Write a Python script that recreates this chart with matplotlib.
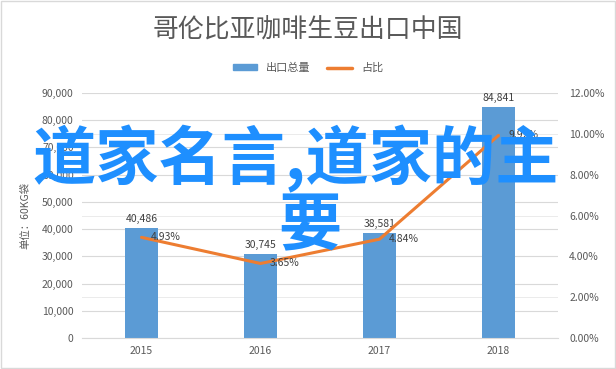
import numpy as np
import matplotlib
matplotlib.use("Agg")
import matplotlib.pyplot as plt
from matplotlib import patches
from matplotlib.lines import Line2D
from matplotlib.ticker import FuncFormatter

plt.rcParams['font.family'] = ['Noto Sans CJK SC', 'DejaVu Sans']

years = ['2015', '2016', '2017', '2018']
export_total = [40486, 30745, 38581, 84841]
share_pct = [4.93, 3.65, 4.84, 9.92]

bar_color = '#5B9BD5'
line_color = '#ED7D31'
text_color = '#595959'

fig = plt.figure(figsize=(6.16, 3.69), dpi=100)
ax = fig.add_axes([82 / 616, 31 / 369, 476 / 616, 245 / 369])
ax2 = ax.twinx()

x = np.arange(len(years))
ax.bar(x, export_total, width=0.27, color=bar_color, zorder=2)
for xi, v in zip(x, export_total):
    ax.text(xi, v + 1500, f'{v:,}', ha='center', va='bottom', fontsize=7.5, color='#404040')

ax.set_xlim(-0.5, 3.5)
ax.set_ylim(0, 90000)
ax.set_yticks(np.arange(0, 90001, 10000))
# right axis gridlines (every 2%) drawn on the left axis so they stay behind the bars
ax.set_yticks(np.arange(0, 90001, 90000 / 6), minor=True)
ax.yaxis.set_major_formatter(FuncFormatter(lambda v, p: f'{int(v):,}'))
ax.set_xticks(x)
ax.set_xticklabels(years)
ax.grid(axis='y', which='major', color='#D9D9D9', linewidth=0.8, zorder=0)
ax.grid(axis='y', which='minor', color='#EBEBEB', linewidth=0.7, zorder=0)
ax.set_axisbelow(True)
ax.tick_params(axis='both', which='both', length=0, labelsize=7.5, labelcolor=text_color, pad=6)
for s in ['top', 'right', 'left']:
    ax.spines[s].set_visible(False)
ax.spines['bottom'].set_color('#D9D9D9')
ax.set_ylabel('单位：60KG袋', fontsize=7.5, color=text_color, labelpad=8)

ax2.plot(x, share_pct, color=line_color, linewidth=2.2, solid_capstyle='round', zorder=3)
for xi, v in zip(x, share_pct):
    ax2.text(xi + 0.08, v, f'{v:.2f}%', ha='left', va='center', fontsize=7.5, color='#404040')
ax2.set_ylim(0, 12)
ax2.set_yticks(np.arange(0, 12.01, 2))
ax2.yaxis.set_major_formatter(FuncFormatter(lambda v, p: f'{v:.2f}%'))
ax2.tick_params(axis='y', length=0, labelsize=7.5, labelcolor=text_color, pad=8)
for s in ['top', 'right', 'left', 'bottom']:
    ax2.spines[s].set_visible(False)

fig.text(0.5, 1 - 30 / 369, '哥伦比亚咖啡生豆出口中国', ha='center', va='center',
         fontsize=18.6, color=text_color, fontweight='light')

handles = [patches.Rectangle((0, 0), 1, 1, color=bar_color),
           Line2D([0], [0], color=line_color, linewidth=2.5, solid_capstyle='round')]
fig.legend(handles, ['出口总量', '占比'], loc='center', bbox_to_anchor=(0.5, 1 - 68 / 369),
           ncol=2, frameon=False, fontsize=8, handlelength=2.2, handleheight=0.5,
           columnspacing=1.5, labelcolor=text_color)

# overlay text
fig.text(296 / 616, 1 - 159 / 369, '道家名言,道家的主', ha='center', va='center',
         fontsize=45.5, color='#1E8FFF', fontweight='bold', zorder=10)
fig.text(310 / 616, 1 - 227 / 369, '要', ha='center', va='center',
         fontsize=45.5, color='#1E8FFF', fontweight='bold', zorder=10)

fig.patches.append(patches.Rectangle((0.002, 0.003), 0.996, 0.994, transform=fig.transFigure,
                                     fill=False, edgecolor='#D9D9D9', linewidth=1))

fig.savefig('out.png', dpi=100)
